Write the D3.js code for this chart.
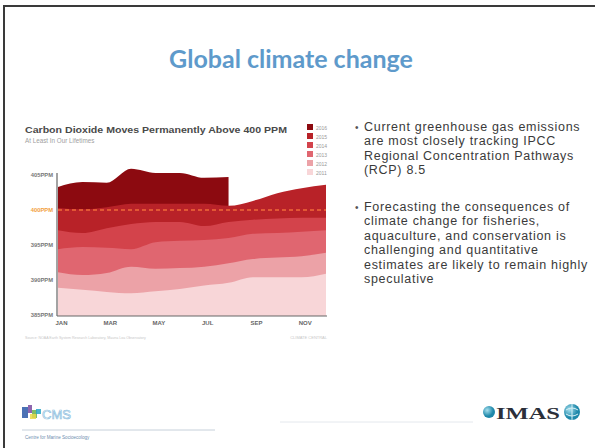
<!DOCTYPE html>
<html><head><meta charset="utf-8">
<script src="https://cdn.jsdelivr.net/npm/d3@7/dist/d3.min.js"></script>
<style>html,body{margin:0;padding:0;background:#fff;}svg{display:block;}</style>
</head><body>
<script>
// ---- data ----
const months = ["JAN","FEB","MAR","APR","MAY","JUN","JUL","AUG","SEP","OCT","NOV","DEC"];
const monthTicks = ["JAN","MAR","MAY","JUL","SEP","NOV"];
const years = ["2016","2015","2014","2013","2012","2011"];
const co2_2016 = [403.3, 404.0, 403.9, 405.9, 405.3, 405.3, 404.6, 404.7];
const co2_2015 = [400.3, 400.1, 400.4, 400.9, 400.9, 400.9, 400.9, 400.6, 401.3, 402.4, 403.1, 403.6];
const co2_2014 = [397.1, 396.7, 397.4, 398.0, 398.3, 398.3, 397.7, 398.3, 398.6, 398.8, 398.9, 398.9];
const co2_2013 = [394.4, 394.7, 394.6, 394.4, 395.4, 395.6, 395.7, 396.0, 396.6, 396.7, 396.9, 397.1];
const co2_2012 = [391.1, 390.7, 391.0, 391.9, 391.6, 391.7, 391.9, 392.4, 393.0, 393.2, 393.4, 393.9];
const co2_2011 = [388.9, 388.6, 388.3, 388.1, 388.4, 388.7, 389.2, 389.6, 390.4, 390.4, 390.4, 390.9];
const seriesValues = [co2_2016, co2_2015, co2_2014, co2_2013, co2_2012, co2_2011];
const yTicks = [385, 390, 395, 400, 405];
const threshold = 400;
const colors = ["#8c0a10", "#b82228", "#d3434b", "#e06670", "#eca2a7", "#f8d6d8"];

const chartTitle = "Carbon Dioxide Moves Permanently Above 400 PPM";
const chartSubtitle = "At Least In Our Lifetimes";
const slideTitle = "Global climate change";
const bullet1 = ["Current greenhouse gas emissions","are most closely tracking IPCC","Regional Concentration Pathways","(RCP) 8.5"];
const bullet2 = ["Forecasting the consequences of","climate change for fisheries,","aquaculture, and conservation is","challenging and quantitative","estimates are likely to remain highly","speculative"];

// ---- slide ----
const W = 595, H = 448;
const svg = d3.select("body").append("svg").attr("width", W).attr("height", H);
svg.append("rect").attr("width", W).attr("height", H).attr("fill", "#fff");
svg.append("path").attr("d", `M4,${H} L4,6 L${W},6`).attr("fill","none").attr("stroke","#3a3a3a").attr("stroke-width",2);

svg.append("text").attr("x", 291).attr("y", 68).attr("text-anchor","middle")
  .attr("font-family","Lato, 'Open Sans', sans-serif").attr("font-weight","bold").attr("font-size",25)
  .attr("fill","#5e9acb").text(slideTitle);

// ---- chart ----
const x = d3.scaleLinear().domain([0, 11]).range([58, 326]);
const y = d3.scaleLinear().domain([385, 405]).range([315, 175]);
const g = svg.append("g");

g.append("text").attr("x",25).attr("y",133).attr("font-family","'Liberation Sans', Arial, sans-serif")
  .attr("font-weight","bold").attr("font-size",8.6).attr("fill","#4a4a4a")
  .attr("textLength",262).attr("lengthAdjust","spacingAndGlyphs").text(chartTitle);
g.append("text").attr("x",25).attr("y",143).attr("font-family","'Liberation Sans', Arial, sans-serif")
  .attr("font-size",6.3).attr("fill","#a0a0a0").text(chartSubtitle);

const area = d3.area().curve(d3.curveMonotoneX)
  .x((d,i)=>x(i)).y0(y(385)+1).y1(d=>y(d));
g.selectAll("path.series").data(seriesValues).join("path").attr("class","series")
  .attr("d", d=>area(d)).attr("fill",(d,i)=>colors[i]);

// threshold dashed line
g.append("line").attr("x1",x(0)).attr("x2",x(11)).attr("y1",y(threshold)).attr("y2",y(threshold))
  .attr("stroke","#f06a3a").attr("stroke-width",1.6).attr("stroke-dasharray","4,3");

// axes
const yAxis = g.append("g").attr("transform","translate(57,0)")
  .call(d3.axisLeft(y).tickValues(yTicks).tickSize(0).tickPadding(4).tickFormat(d=>d+"PPM"));
yAxis.select(".domain").attr("stroke","#666").attr("stroke-width",1.2).attr("d",`M0,${y(405)-2}V${y(385)+1}`);
yAxis.selectAll("text").attr("font-family","'Liberation Sans', Arial, sans-serif").attr("font-weight","bold")
  .attr("font-size",5.8).attr("fill",d=>d===threshold?"#f2a040":"#777");

const xAxis = g.append("g").attr("transform",`translate(0,${y(385)+1})`)
  .call(d3.axisBottom(x).tickValues(monthTicks.map(m=>months.indexOf(m))).tickSize(0).tickPadding(5)
  .tickFormat(i=>months[i]));
xAxis.select(".domain").attr("stroke","#666").attr("stroke-width",1.2).attr("d",`M57,0H327`);
xAxis.selectAll("text").attr("font-family","'Liberation Sans', Arial, sans-serif").attr("font-weight","bold")
  .attr("font-size",6).attr("fill","#666").attr("dx",3);

// legend
const leg = g.append("g");
years.forEach((yr,i)=>{
  leg.append("rect").attr("x",307).attr("y",124+i*9).attr("width",6).attr("height",6).attr("fill",colors[i]);
  leg.append("text").attr("x",316).attr("y",129.5+i*9).attr("font-family","'Liberation Sans', Arial, sans-serif")
    .attr("font-size",5).attr("fill","#999").text(yr);
});

// source line
g.append("text").attr("x",25).attr("y",339).attr("font-family","'Liberation Sans', Arial, sans-serif")
  .attr("font-size",3.6).attr("fill","#c8c8c8").text("Source: NOAA Earth System Research Laboratory, Mauna Loa Observatory");
g.append("text").attr("x",327).attr("y",339).attr("text-anchor","end").attr("font-family","'Liberation Sans', Arial, sans-serif")
  .attr("font-size",4).attr("fill","#c8c8c8").text("CLIMATE CENTRAL");

// ---- bullets ----
const bfont = "'Liberation Sans', Arial, sans-serif";
function bullets(lines, y0){
  svg.append("text").attr("x",355).attr("y",y0).attr("font-family",bfont).attr("font-size",10).attr("fill","#555").text("•");
  lines.forEach((l,i)=>{
    svg.append("text").attr("x",364).attr("y",y0+i*14.4).attr("font-family",bfont).attr("font-size",12.5)
      .attr("letter-spacing",0.7).attr("fill","#3a3a3a").text(l);
  });
}
bullets(bullet1, 131);
bullets(bullet2, 211);

// ---- footer logos ----
const cms = svg.append("g");
[["#2b58a8",22,407,6,11],["#7a4aa0",28,405,4,8],["#6ab04c",32,410,5,8],["#e8d84a",30,414,6,5],["#2aa6c8",36,409,5,5]]
 .forEach(r=>cms.append("rect").attr("x",r[1]).attr("y",r[2]).attr("width",r[3]).attr("height",r[4]).attr("fill",r[0]).attr("opacity",0.85));
cms.append("text").attr("x",42).attr("y",419).attr("font-family","'Liberation Sans', Arial, sans-serif")
  .attr("font-size",13).attr("fill","none").attr("stroke","#8fbfe0").attr("stroke-width",0.7).text("CMS");
svg.append("line").attr("x1",22).attr("x2",215).attr("y1",430).attr("y2",430).attr("stroke","#b8c4d0").attr("stroke-width",0.8);
svg.append("line").attr("x1",280).attr("x2",473).attr("y1",422).attr("y2",422).attr("stroke","#dde2e8").attr("stroke-width",0.8);
svg.append("text").attr("x",25).attr("y",439).attr("font-family","'Liberation Sans', Arial, sans-serif")
  .attr("font-size",4.6).attr("fill","#6f8fb0").text("Centre for Marine Socioecology");

const defs = svg.append("defs");
const gr = defs.append("radialGradient").attr("id","sph").attr("cx","35%").attr("cy","35%");
gr.append("stop").attr("offset","0%").attr("stop-color","#a8e0ee");
gr.append("stop").attr("offset","100%").attr("stop-color","#1e88aa");
svg.append("circle").attr("cx",489).attr("cy",412).attr("r",6).attr("fill","url(#sph)");
svg.append("text").attr("x",496).attr("y",418.5).attr("font-family","'Liberation Serif', serif").attr("font-weight","bold")
  .attr("font-size",16).attr("fill","#2b2f3a").attr("textLength",64).attr("lengthAdjust","spacingAndGlyphs").text("IMAS");
svg.append("circle").attr("cx",572).attr("cy",412).attr("r",8).attr("fill","url(#sph)");
svg.append("path").attr("d","M566,410 Q572,406 578,410 M566,414 Q572,418 578,414 M572,404 V420")
  .attr("fill","none").attr("stroke","#d6f0f6").attr("stroke-width",1);
</script>
</body></html>
